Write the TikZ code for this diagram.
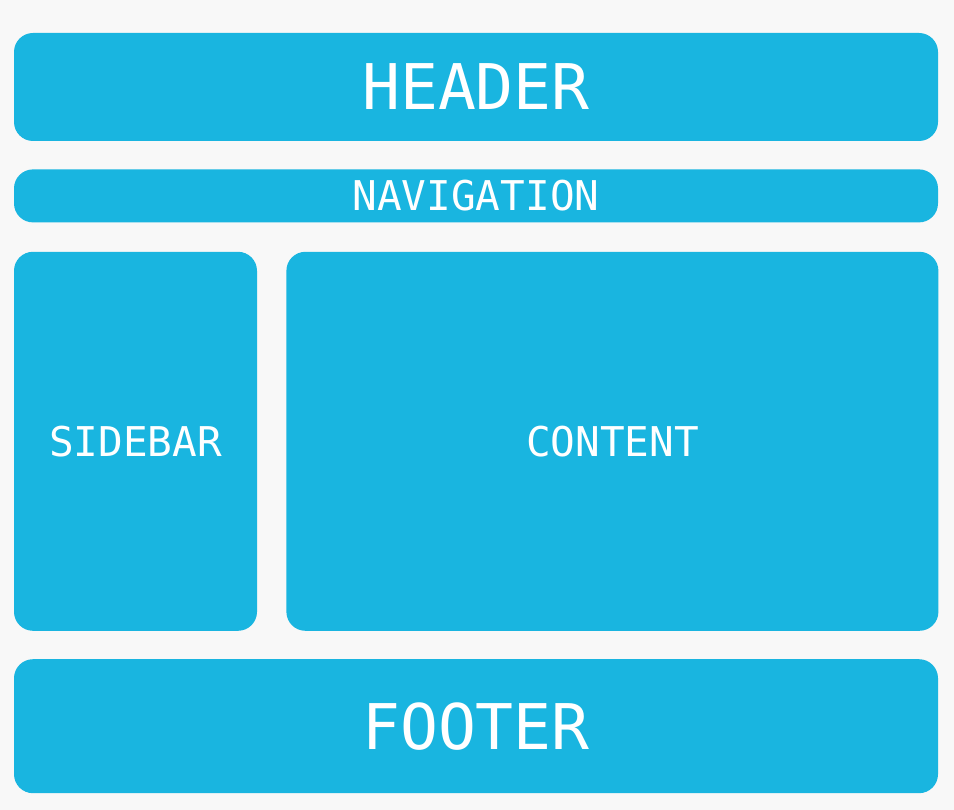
\documentclass[tikz,border=0pt]{standalone}
\usepackage{fontspec}
\setmonofont{DejaVu Sans Mono}
\usetikzlibrary{positioning}
\definecolor{boxblue}{RGB}{25,181,224}
\definecolor{pagegray}{RGB}{248,248,248}

\begin{document}
\begin{tikzpicture}[x=1pt, y=-1pt, inner sep=0pt, align=center]

    \tikzstyle{block}=[fill=boxblue, rounded corners=19pt, text=white]
    \tikzstyle{bigtext}=[font=\ttfamily\fontsize{63}{63}\selectfont]
    \tikzstyle{smalltext}=[font=\ttfamily\fontsize{41}{41}\selectfont]

    \fill[pagegray] (0,0) rectangle (954,810);

    \node[block, bigtext, minimum width=924pt, minimum height=108pt] (header) at (476,87) {HEADER};
    \node[block, smalltext, minimum width=924pt, minimum height=53pt] (navigation) [below=28pt of header] {NAVIGATION};
    \node[block, smalltext, minimum width=243pt, minimum height=379pt, anchor=north west] (sidebar) [below=29pt of navigation.south west, anchor=north west] {SIDEBAR};
    \node[block, smalltext, minimum width=652pt, minimum height=379pt] (content) [right=29pt of sidebar] {CONTENT};
    \node[block, bigtext, minimum width=924pt, minimum height=134pt] (footer) [below=28pt of sidebar.south west, anchor=north west] {FOOTER};
\end{tikzpicture}
\end{document}
